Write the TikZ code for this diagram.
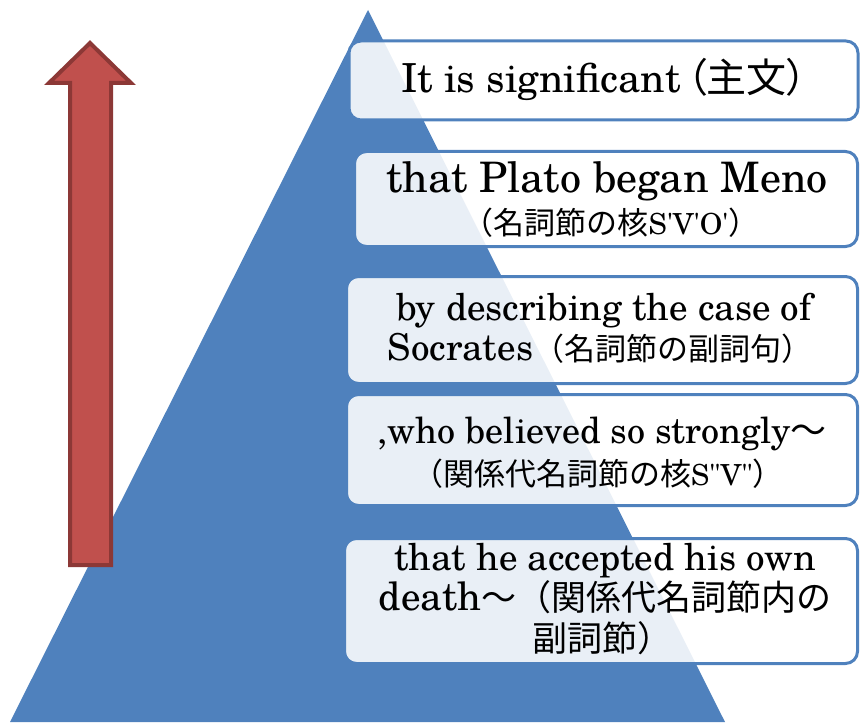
\documentclass[tikz,border=0pt]{standalone}
\usepackage{fontspec}
\setmainfont{TeX Gyre Schola}
\newfontfamily\jp{Noto Sans CJK JP}
\newfontfamily\jpp{Noto Sans CJK JP}[RawFeature=+palt]
\definecolor{pyr}{HTML}{4F81BD}
\definecolor{arrfill}{HTML}{C0504D}
\definecolor{arrdraw}{HTML}{8C3836}
\tikzset{
  levelbox/.style={draw=pyr, line width=3pt, fill=white, fill opacity=0.88, text opacity=1,
    rounded corners=12pt, inner sep=0pt},
  boxtext/.style={anchor=base, inner sep=0pt},
  uparrow/.style={draw=arrdraw, line width=4pt, fill=arrfill, line join=miter}
}
\newcommand{\fsz}[1]{\fontsize{#1}{#1}\selectfont}
\begin{document}
\begin{tikzpicture}[x=1pt,y=-1pt]
\useasboundingbox (0,0) rectangle (861,722);
% pyramid
\fill[pyr] (10,722) -- (368,10) -- (725,722) -- cycle;
% arrow
\draw[uparrow] (90,43) -- (131,83) -- (111,83) -- (111,565) -- (70,565) -- (70,83) -- (49,83) -- cycle;
% boxes
\node[levelbox, minimum width=509, minimum height=79] (b1) at (603.5,80.5) {};
\node[levelbox, minimum width=503, minimum height=95] (b2) at (606,199) {};
\node[levelbox, minimum width=511, minimum height=107] (b3) at (602,330) {};
\node[levelbox, minimum width=511, minimum height=111] (b4) at (602,450) {};
\node[levelbox, minimum width=513, minimum height=125] (b5) at (601,601) {};
% texts
\node[boxtext, font=\fsz{40}] (t1) at (604,93) {It is significant\hspace{6pt}{\jpp （主文）}};
\node[boxtext, font=\fsz{42}] (t2a) at (607,192) {that Plato began Meno};
\node[boxtext] (t2b) at (611,234) {{\fsz{31}\jp （名詞節の核}{\fsz{29}S\textquotesingle V\textquotesingle O\textquotesingle}{\fsz{31}\jp ）}};
\node[boxtext, font=\fsz{37}] (t3a) at (604,320) {by describing the case of};
\node[boxtext] (t3b) at (600,360) {{\fsz{37}Socrates}{\fsz{31}\jp （名詞節の副詞句）}};
\node[boxtext, font=\fsz{36}] (t4a) at (602,443) {,who believed so strongly{\jp ～}};
\node[boxtext] (t4b) at (598,485) {{\fsz{31}\jp （関係代名詞節の核}{\fsz{29}S\textquotedbl V\textquotedbl}{\fsz{31}\jp ）}};
\node[boxtext, font=\fsz{37}] (t5a) at (605,570) {that he accepted his own};
\node[boxtext] (t5b) at (605,610) {{\fsz{39}death}{\fsz{35}\jp ～（関係代名詞節内の}};
\node[boxtext, font=\fsz{35}\jp] (t5c) at (602,651) {副詞節）};
\end{tikzpicture}
\end{document}
